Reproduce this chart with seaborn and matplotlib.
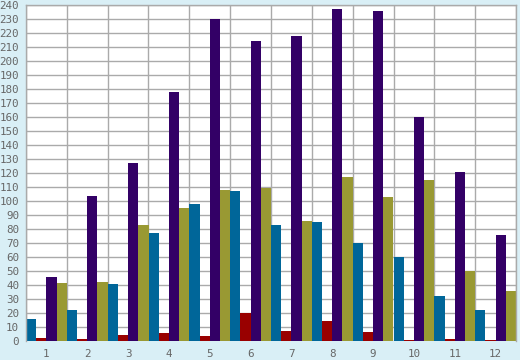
import pandas as pd
import matplotlib
matplotlib.use("Agg")
import matplotlib.pyplot as plt
import seaborn as sns

# data
months = ["1", "2", "3", "4", "5", "6", "7", "8", "9", "10", "11", "12"]
series_a = [16, 22, 41, 77, 98, 107, 83, 85, 70, 60, 32, 22]          # blue
series_b = [2, 1.4, 4.3, 5.7, 3.6, 20, 7, 14, 6.4, 1, 1.4, 1]         # dark red
series_c = [45.5, 103.5, 127, 178, 230, 214, 218, 237, 236, 160, 121, 76]  # purple
series_d = [41.5, 42, 83, 95, 108, 109, 85.5, 117, 103, 115, 50, 36]  # olive
series_names = ["A", "B", "C", "D"]
colors = ["#006699", "#990000", "#330066", "#999933"]

rows = []
for name, vals in zip(series_names, [series_a, series_b, series_c, series_d]):
    for m, v in zip(months, vals):
        rows.append({"month": m, "series": name, "value": v})
df = pd.DataFrame(rows)

sns.set_style("white")
plt.rcParams["font.family"] = ["DejaVu Sans Mono", "DejaVu Sans"]

fig = plt.figure(figsize=(5.2, 3.6), dpi=100)
fig.patch.set_facecolor("#D9EFF6")
ax = fig.add_axes([26 / 520, 19 / 360, 490 / 520, 336 / 360])
ax.set_facecolor("white")

sns.barplot(data=df, x="month", y="value", hue="series", palette=colors,
            width=1.0, dodge=True, legend=False, saturation=1, ax=ax,
            errorbar=None, linewidth=0)

ax.set_xlim(-0.5, 11.5)
ax.set_ylim(0, 240)
ax.set_yticks(range(0, 241, 10))
ax.set_xticks([i - 0.5 for i in range(13)])
ax.set_xticklabels([])
ax.set_xticks(range(12), minor=True)
ax.set_xticklabels(months, minor=True)
ax.tick_params(axis="x", which="minor", length=0, pad=6, labelsize=7.8, labelcolor="#666666")
ax.tick_params(axis="x", which="major", length=5, color="#999999", width=1)
ax.tick_params(axis="y", length=4, color="#999999", labelsize=7.8, labelcolor="#666666", pad=1)
ax.grid(True, which="major", color="#AAAAAA", linewidth=1)
ax.set_axisbelow(True)
for s in ax.spines.values():
    s.set_color("#AAAAAA")
    s.set_linewidth(1)
ax.spines["bottom"].set_visible(False)
ax.set_xlabel("")
ax.set_ylabel("")

fig.savefig("out.png", dpi=100, facecolor=fig.get_facecolor())
